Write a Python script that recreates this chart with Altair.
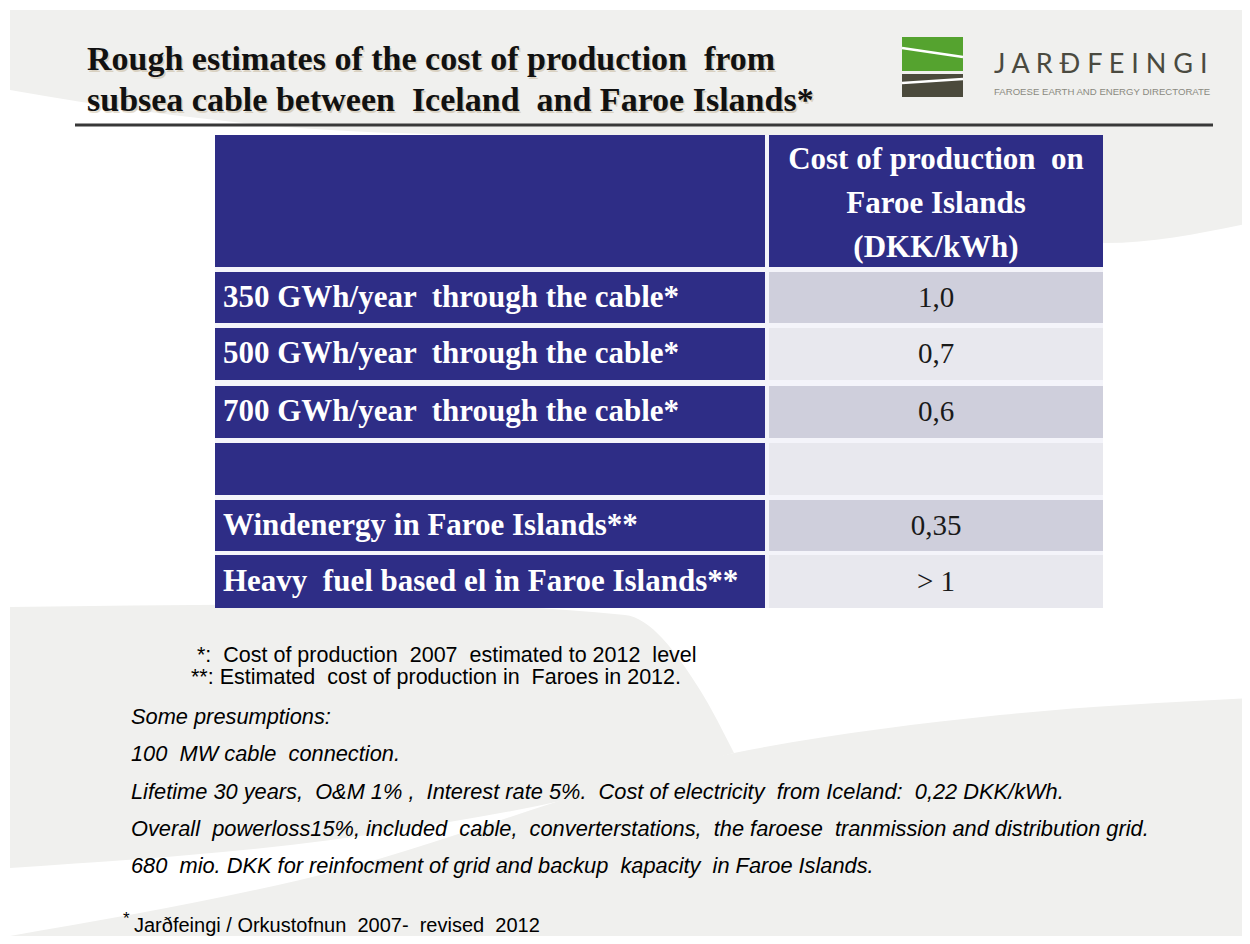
import altair as alt
import pandas as pd

# ---------------- content ----------------
title_lines = ["Rough estimates of the cost of production  from",
               "subsea cable between  Iceland  and Faroe Islands*"]
header_lines = ["Cost of production  on", "Faroe Islands", "(DKK/kWh)"]
row_labels = ["350 GWh/year  through the cable*",
              "500 GWh/year  through the cable*",
              "700 GWh/year  through the cable*",
              "",
              "Windenergy in Faroe Islands**",
              "Heavy  fuel based el in Faroe Islands**"]
row_values = ["1,0", "0,7", "0,6", "", "0,35", "> 1"]
footnotes = ["*:  Cost of production  2007  estimated to 2012  level",
             "**: Estimated  cost of production in  Faroes in 2012."]
presumptions = ["Some presumptions:",
                "100  MW cable  connection.",
                "Lifetime 30 years,  O&M 1% ,  Interest rate 5%.  Cost of electricity  from Iceland:  0,22 DKK/kWh.",
                "Overall  powerloss15%, included  cable,  converterstations,  the faroese  tranmission and distribution grid.",
                "680  mio. DKK for reinfocment of grid and backup  kapacity  in Faroe Islands."]
source_text = "Jarðfeingi / Orkustofnun  2007-  revised  2012"
logo_name = "J A R Ð F E I N G I"
logo_sub = "FAROESE EARTH AND ENERGY DIRECTORATE"


def keep_spaces(s):
    # SVG collapses repeated spaces; keep the slide's double spacing
    return s.replace("  ", " \u00a0")


# ---------------- layout (slide pixel coordinates) ----------------
W, H = 1234, 928
row_top = [272, 328, 386, 443, 500, 555]
row_bottom = [323, 380, 438, 495, 551, 608]
header_top, header_bottom = 135, 267
label_x0, label_x1 = 215, 765
value_x0, value_x1 = 769, 1103
header_baselines = [169, 213, 257]
title_x, title_baselines = 87, [70, 111]
foot_x = [197, 191]
foot_baselines = [662, 684]
pres_x, pres_baselines = 131, [724, 761, 799, 836, 873]

# background swooshes
top_bg_x = [10, 150, 300, 600, 1000, 1105, 1250]
top_bg_y2 = [90, 112, 128, 140, 180, 243, 223]
wedge_x = [10, 400, 625, 700, 734]
wedge_top = [607, 604, 615, 690, 753]
wedge_bot = [868, 830, 785, 762, 753]
low_x = [10, 300, 734, 1000, 1250]
low_top = [936, 880, 753, 715, 698]

NAVY = "#2e2d86"
CELL_DARK = "#cfcfdc"
CELL_LIGHT = "#e8e8ee"
BG_GRAY = "#f0f0ee"
SERIF = "Liberation Serif"
SANS = "Liberation Sans"

X = alt.Scale(domain=[8, 8 + W], nice=False, zero=False)
Y = alt.Scale(domain=[8, 8 + H], nice=False, zero=False, reverse=True)


def xq(f):
    return alt.X(f, type="quantitative", scale=X, axis=None)


def yq(f):
    return alt.Y(f, type="quantitative", scale=Y, axis=None)


# background areas
bg_top = alt.Chart(pd.DataFrame({"x": top_bg_x, "y": [10] * len(top_bg_x), "y2": top_bg_y2})).mark_area(
    color=BG_GRAY, interpolate="monotone").encode(x=xq("x"), y=yq("y"), y2="y2")
bg_wedge = alt.Chart(pd.DataFrame({"x": wedge_x, "y": wedge_top, "y2": wedge_bot})).mark_area(
    color=BG_GRAY, interpolate="monotone").encode(x=xq("x"), y=yq("y"), y2="y2")
bg_low = alt.Chart(pd.DataFrame({"x": low_x, "y": low_top, "y2": [944] * len(low_x)})).mark_area(
    color=BG_GRAY, interpolate="monotone").encode(x=xq("x"), y=yq("y"), y2="y2")

# title
title_df = pd.DataFrame({"t": [keep_spaces(s) for s in title_lines], "x": [title_x] * 2, "y": title_baselines})
title_shadow = alt.Chart(title_df).mark_text(
    font=SERIF, fontWeight="bold", fontSize=34, align="left", baseline="alphabetic",
    color="#b09a70", opacity=0.35, dx=1.5, dy=1.5).encode(x=xq("x"), y=yq("y"), text="t:N")
title = alt.Chart(title_df).mark_text(
    font=SERIF, fontWeight="bold", fontSize=34, align="left", baseline="alphabetic",
    color="#111111").encode(x=xq("x"), y=yq("y"), text="t:N")
title_rule = alt.Chart(pd.DataFrame({"x": [75], "x2": [1213], "y": [125]})).mark_rule(
    color="#383838", strokeWidth=3).encode(x=xq("x"), x2="x2", y=yq("y"))

# logo
logo_rects = pd.DataFrame({"x": [902, 902], "x2": [963, 963], "y": [37, 74], "y2": [71, 97],
                           "c": ["#55a32f", "#4b4a3c"]})
logo_r = alt.Chart(logo_rects).mark_rect().encode(
    x=xq("x"), x2="x2", y=yq("y"), y2="y2", color=alt.Color("c:N", scale=None))
logo_lines = pd.DataFrame({"x": [902, 902], "x2": [963, 963], "y": [48, 83], "y2": [57, 79]})
logo_l = alt.Chart(logo_lines).mark_rule(color="white", strokeWidth=2.5).encode(
    x=xq("x"), x2="x2", y=yq("y"), y2="y2")
logo_t = alt.Chart(pd.DataFrame({"t": [logo_name], "x": [994], "y": [73]})).mark_text(
    font="Lato", fontSize=27, align="left", baseline="alphabetic", color="#4a4a40"
).encode(x=xq("x"), y=yq("y"), text="t:N")
logo_s = alt.Chart(pd.DataFrame({"t": [logo_sub], "x": [994], "y": [95]})).mark_text(
    font=SANS, fontSize=9.6, align="left", baseline="alphabetic", color="#8a8a80"
).encode(x=xq("x"), y=yq("y"), text="t:N")

# table cells
cells = []
cells.append(dict(x=label_x0, x2=label_x1, y=header_top, y2=header_bottom, c=NAVY))
cells.append(dict(x=value_x0, x2=value_x1, y=header_top, y2=header_bottom, c=NAVY))
for i in range(len(row_labels)):
    cells.append(dict(x=label_x0, x2=label_x1, y=row_top[i], y2=row_bottom[i], c=NAVY))
    cells.append(dict(x=value_x0, x2=value_x1, y=row_top[i], y2=row_bottom[i],
                      c=CELL_DARK if i % 2 == 0 else CELL_LIGHT))
cells_df = pd.DataFrame(cells)
table_bg = alt.Chart(pd.DataFrame({"x": [label_x0], "x2": [value_x1], "y": [header_top],
                                   "y2": [row_bottom[-1]]})).mark_rect(color="#f4f4fa").encode(
    x=xq("x"), x2="x2", y=yq("y"), y2="y2")
table_cells = alt.Chart(cells_df).mark_rect().encode(
    x=xq("x"), x2="x2", y=yq("y"), y2="y2", color=alt.Color("c:N", scale=None))

header_df = pd.DataFrame({"t": [keep_spaces(s) for s in header_lines],
                          "x": [(value_x0 + value_x1) / 2] * 3, "y": header_baselines})
header_t = alt.Chart(header_df).mark_text(
    font=SERIF, fontWeight="bold", fontSize=31, align="center", baseline="alphabetic",
    color="white").encode(x=xq("x"), y=yq("y"), text="t:N")

rows_df = pd.DataFrame({"label": [keep_spaces(s) for s in row_labels], "value": row_values,
                        "xl": [label_x0 + 8] * 6, "xv": [(value_x0 + value_x1) / 2] * 6,
                        "y": [(a + b) / 2 for a, b in zip(row_top, row_bottom)]})
label_t = alt.Chart(rows_df).mark_text(
    font=SERIF, fontWeight="bold", fontSize=31, align="left", baseline="middle",
    color="white").encode(x=xq("xl"), y=yq("y"), text="label:N")
value_t = alt.Chart(rows_df).mark_text(
    font=SERIF, fontSize=29, align="center", baseline="middle",
    color="#1a1a1a").encode(x=xq("xv"), y=yq("y"), text="value:N")

# footnotes
foot_df = pd.DataFrame({"t": [keep_spaces(s) for s in footnotes], "x": foot_x, "y": foot_baselines})
foot_t = alt.Chart(foot_df).mark_text(
    font=SANS, fontSize=21.5, align="left", baseline="alphabetic", color="#000000"
).encode(x=xq("x"), y=yq("y"), text="t:N")
pres_df = pd.DataFrame({"t": [keep_spaces(s) for s in presumptions], "x": [pres_x] * 5, "y": pres_baselines})
pres_t = alt.Chart(pres_df).mark_text(
    font=SANS, fontSize=21.8, fontStyle="italic", align="left", baseline="alphabetic", color="#000000"
).encode(x=xq("x"), y=yq("y"), text="t:N")
src_df = pd.DataFrame({"t": ["*", keep_spaces(source_text)], "x": [123, 134], "y": [924, 932], "s": [17, 20]})
src_t = alt.Chart(src_df).mark_text(
    font=SANS, align="left", baseline="alphabetic", color="#000000"
).encode(x=xq("x"), y=yq("y"), text="t:N", size=alt.Size("s:Q", scale=None))

chart = alt.layer(
    bg_top, bg_wedge, bg_low,
    title_shadow, title, title_rule,
    logo_r, logo_l, logo_t, logo_s,
    table_bg, table_cells, header_t, label_t, value_t,
    foot_t, pres_t, src_t,
).properties(
    width=W, height=H, background="white", padding=0,
    autosize=alt.AutoSizeParams(type="none"),
).configure_view(stroke=None)

chart.save("out.html", embed_options={"renderer": "svg", "actions": False})
